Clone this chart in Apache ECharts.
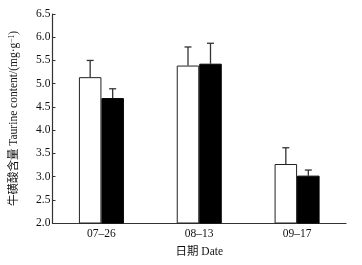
<!DOCTYPE html>
<html><head><meta charset="utf-8">
<script src="https://cdn.jsdelivr.net/npm/echarts@6/dist/echarts.min.js"></script>
<style>html,body{margin:0;padding:0;background:#fff}#c{width:362px;height:265px}</style>
</head><body><div id="c"></div>
<script>
const categories = ['07–26', '08–13', '09–17'];
const whiteValues = [5.14, 5.39, 3.27];
const whiteErrors = [0.36, 0.40, 0.35];
const blackValues = [4.69, 5.43, 3.02];
const blackErrors = [0.20, 0.44, 0.12];
const yTicks = [2.0, 2.5, 3.0, 3.5, 4.0, 4.5, 5.0, 5.5, 6.0, 6.5];

const FONT = '"Liberation Serif", "DejaVu Serif", "Noto Sans CJK SC", serif';
const BAR_W = 0.23;

function errSeries(values, errors, side) {
  return {
    type: 'custom',
    z: 1,
    data: values.map((v, i) => [i, v, v + errors[i]]),
    renderItem: function (params, api) {
      const i = api.value(0);
      const band = api.size([1, 0])[0];
      const off = side * band * BAR_W / 2;
      const p0 = api.coord([i, api.value(1)]);
      const p1 = api.coord([i, api.value(2)]);
      const x = p0[0] + off;
      const cap = 3.5;
      const style = { stroke: '#333', lineWidth: 1.3 };
      return {
        type: 'group',
        children: [
          { type: 'line', shape: { x1: x, y1: p0[1], x2: x, y2: p1[1] }, style: style },
          { type: 'line', shape: { x1: x - cap, y1: p1[1], x2: x + cap, y2: p1[1] }, style: style }
        ]
      };
    }
  };
}

const chart = echarts.init(document.getElementById('c'));
chart.setOption({
  animation: false,
  backgroundColor: '#fff',
  textStyle: { fontFamily: FONT },
  grid: { left: 52, right: 16, top: 14, bottom: 42 },
  xAxis: {
    type: 'category',
    data: categories,
    boundaryGap: true,
    name: '日期 Date',
    nameLocation: 'middle',
    nameGap: 23,
    nameTextStyle: { fontFamily: FONT, fontSize: 11.5, color: '#111' },
    axisLine: { lineStyle: { color: '#333', width: 1.2 } },
    axisTick: { inside: true, length: 4, lineStyle: { color: '#333' } },
    axisLabel: { fontFamily: FONT, fontSize: 11.5, color: '#111', margin: 5 }
  },
  yAxis: {
    type: 'value',
    min: 2, max: 6.5, interval: 0.5,
    name: '牛磺酸含量 Taurine content/(mg·g{sup|−1})',
    nameLocation: 'middle',
    nameGap: 32,
    nameTextStyle: {
      fontFamily: FONT, fontSize: 11.5, color: '#111',
      rich: { sup: { fontFamily: FONT, fontSize: 7.5, color: '#111', verticalAlign: 'top', padding: [0, 0, 5, 0] } }
    },
    splitLine: { show: false },
    axisLine: { show: true, lineStyle: { color: '#333', width: 1.2 } },
    axisTick: { show: true, inside: true, length: 3, lineStyle: { color: '#333' } },
    axisLabel: {
      fontFamily: FONT, fontSize: 11.5, color: '#111', margin: 2,
      formatter: v => yTicks.indexOf(v) >= 0 ? v.toFixed(1) : ''
    }
  },
  series: [
    {
      type: 'bar', data: whiteValues, barWidth: '23%', barGap: '0%', z: 2,
      itemStyle: { color: '#fff', borderColor: '#222', borderWidth: 1 }
    },
    {
      type: 'bar', data: blackValues, barWidth: '23%', barGap: '0%', z: 2,
      itemStyle: { color: '#000', borderColor: '#000', borderWidth: 1 }
    },
    errSeries(whiteValues, whiteErrors, -1),
    errSeries(blackValues, blackErrors, 1)
  ]
});
</script></body></html>
